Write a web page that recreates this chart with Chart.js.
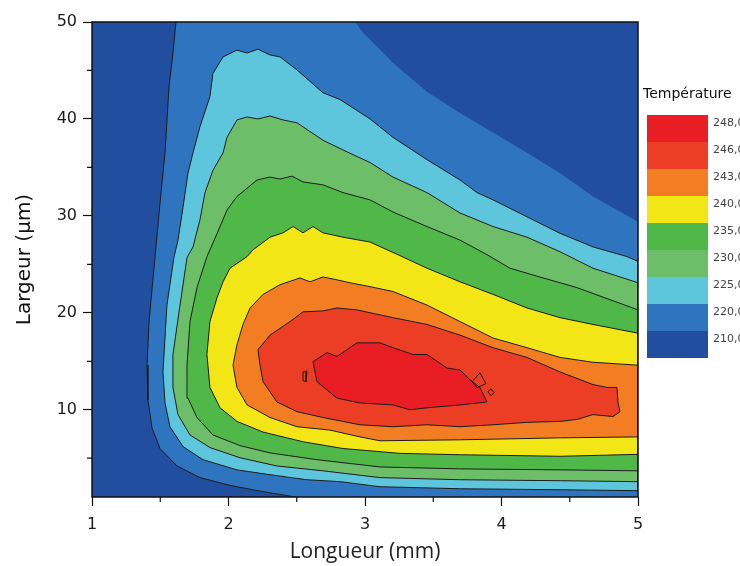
<!DOCTYPE html>
<html>
<head>
<meta charset="utf-8">
<script src="https://cdn.jsdelivr.net/npm/chart.js@4.4.0/dist/chart.umd.min.js"></script>
<style>
  html, body { margin: 0; padding: 0; background: #fff; overflow: hidden; }
  #wrap { position: relative; width: 740px; height: 566px; }
  #legend { position: absolute; left: 0; top: 0; width: 740px; height: 566px; pointer-events: none; overflow: hidden; }
  .ttl { position: absolute; font: 14px "DejaVu Sans", sans-serif; color: #111; white-space: nowrap; }
  .seg { position: absolute; }
  .lab { position: absolute; font: 11px "DejaVu Sans", sans-serif; color: #444; white-space: nowrap; line-height: 14px; }
</style>
</head>
<body>
<div id="wrap">
  <canvas id="contour" width="740" height="566"></canvas>
  <div id="legend"></div>
</div>
<script>
/* --------------- Axes --------------------- */
const xTicks = [1, 2, 3, 4, 5];
const yTicks = [10, 20, 30, 40, 50];
const xMinorTicks = [1.5, 2.5, 3.5, 4.5];
const yMinorTicks = [5, 15, 25, 35, 45];

/* --------------- Colour scale (bottom -> top) --------------------- */
const legendLabels = ["210,0", "220,0", "225,0", "230,0", "235,0", "240,0", "243,0", "246,0", "248,0"];
const legendColors = ["#224ea0", "#2f74be", "#5ec6dc", "#6cbe69", "#50b848", "#f3e616", "#f27d22", "#eb3e25", "#e91e25"];

/* --------------- Contours: [longueur mm, largeur um] ------------------------------------------ */
// 210 level, left branch (drawn with a line) and top-right branch (no line)
const c210Left = [[1.615,50],[1.593,46.8],[1.564,43.3],[1.535,36.5],[1.498,31.3],[1.46,25.5],[1.418,19.1],[1.403,14.6],[1.41,11.0],[1.44,8.1],[1.498,6.0],[1.623,4.2],[1.791,3.0],[2.011,2.2],[2.253,1.55],[2.49,1.0]];
const c210Right = [[2.93,50],[2.98,49.0],[3.205,45.8],[3.454,42.8],[3.696,40.6],[3.938,38.6],[4.187,36.5],[4.429,34.4],[4.67,32.0],[5,29.4]];

const c220 = [[5,1.65],[4.43,1.75],[3.7,1.85],[3.11,2.06],[2.82,2.58],[2.575,2.78],[2.304,3.3],[2.062,3.8],[1.813,4.85],[1.667,6.2],[1.571,8.25],[1.535,10.7],[1.52,13.9],[1.549,20.8],[1.6,25.7],[1.63,27.5],[1.667,30.9],[1.703,34.4],[1.74,36.5],[1.791,39.2],[1.864,42.3],[1.886,44.7],[1.96,46.4],[2.062,47.1],[2.136,46.8],[2.216,47.2],[2.304,46.6],[2.377,46.4],[2.502,45.05],[2.692,42.7],[2.817,42.0],[3.037,40.0],[3.205,38.1],[3.454,35.8],[3.696,33.7],[3.821,32.4],[3.938,31.65],[4.187,29.9],[4.429,28.2],[4.67,26.8],[4.919,25.8],[5,25.3]];

const c225 = [[5,2.58],[4.43,2.68],[3.7,2.78],[3.11,3.0],[2.692,3.7],[2.355,4.2],[2.084,5.05],[1.864,6.1],[1.718,7.4],[1.63,9.5],[1.593,12.3],[1.593,15.7],[1.645,20.8],[1.696,25.7],[1.74,26.8],[1.791,29.6],[1.828,32.4],[1.886,34.7],[1.96,36.5],[1.989,38.1],[2.062,39.9],[2.136,40.2],[2.216,40.0],[2.304,40.3],[2.399,39.9],[2.502,39.6],[2.692,37.8],[2.839,36.8],[3.037,35.5],[3.205,34.0],[3.454,32.4],[3.696,30.3],[3.938,28.9],[4.187,27.8],[4.429,26.3],[4.67,24.6],[5,23.1]];

const c230 = [[5,3.7],[4.43,3.8],[3.7,3.9],[3.11,4.1],[2.648,4.85],[2.304,5.55],[2.084,6.3],[1.886,7.4],[1.769,9.2],[1.703,11.2],[1.696,14.6],[1.718,19.1],[1.769,22.6],[1.842,25.8],[1.886,27.2],[1.938,28.9],[1.989,30.6],[2.062,32.0],[2.209,33.7],[2.304,34.0],[2.377,33.8],[2.465,34.1],[2.546,33.5],[2.692,33.2],[2.839,32.4],[3.037,31.65],[3.205,30.4],[3.454,28.9],[3.696,27.5],[3.894,26.0],[4.062,24.6],[4.304,23.6],[4.553,22.6],[5,20.3]];

const c235 = [[5,5.4],[4.72,5.3],[4.43,5.2],[3.7,5.36],[3.256,5.5],[2.839,6.0],[2.546,6.7],[2.253,7.7],[2.062,8.8],[1.938,10.2],[1.864,12.3],[1.842,15.7],[1.864,19.1],[1.916,21.55],[1.96,23.2],[2.011,24.6],[2.136,25.8],[2.18,26.5],[2.304,27.8],[2.399,28.25],[2.473,28.9],[2.546,28.25],[2.619,28.9],[2.692,28.25],[2.839,27.8],[3.037,27.3],[3.256,25.9],[3.454,24.6],[3.696,23.2],[3.938,21.9],[4.187,20.5],[4.429,19.5],[4.67,18.8],[5,17.9]];

const c240 = [[5,7.2],[4.43,7.1],[3.7,6.9],[3.11,6.8],[2.963,7.2],[2.744,7.9],[2.502,8.25],[2.304,9.2],[2.136,10.5],[2.062,12.3],[2.033,14.6],[2.062,16.7],[2.106,18.8],[2.158,20.5],[2.253,21.9],[2.377,22.9],[2.524,23.6],[2.597,23.2],[2.692,23.7],[2.795,23.4],[2.89,23.1],[3.037,22.7],[3.205,22.2],[3.454,20.8],[3.696,19.1],[3.938,17.4],[4.187,16.4],[4.429,15.4],[4.67,14.9],[5,14.6]];

const c243 = [[2.216,16.2],[2.304,17.7],[2.451,19.1],[2.546,20.1],[2.692,20.2],[2.795,20.5],[2.941,20.3],[3.205,19.5],[3.454,18.8],[3.696,17.7],[3.938,16.4],[4.187,15.4],[4.429,13.9],[4.67,12.6],[4.773,12.3],[4.846,12.3],[4.853,10.8],[4.868,9.8],[4.817,9.3],[4.67,9.5],[4.553,9.0],[4.429,8.8],[4.187,8.7],[3.938,8.45],[3.696,8.25],[3.454,8.45],[3.205,8.25],[2.963,8.45],[2.692,9.2],[2.502,9.8],[2.355,10.8],[2.253,12.9],[2.231,14.6]];

const c246 = [[2.619,14.95],[2.722,15.9],[2.795,15.5],[2.941,16.9],[3.11,16.9],[3.205,16.4],[3.352,15.7],[3.454,15.7],[3.601,14.3],[3.696,14.1],[3.769,13.1],[3.842,12.3],[3.894,10.8],[3.696,10.5],[3.454,10.2],[3.33,10.0],[3.205,10.5],[2.963,10.7],[2.795,11.2],[2.648,12.9]];

// small closed islands
const island1 = [[3.784,12.89],[3.842,13.8],[3.886,12.7],[3.821,12.27]];
const island2 = [[3.90,11.86],[3.923,12.16],[3.945,11.75],[3.923,11.44]];
const island3 = [[2.546,13.9],[2.575,14.0],[2.568,12.9],[2.546,13.0]];

/* --------------- Build datasets --------------------- */
const lineColor = "#1c1c1c";
const toPts = (arr) => arr.map(p => ({ x: p[0], y: p[1] }));

function bandSet(arr, color, order, withLine) {
  const data = toPts(arr);
  data.push(data[0]);
  return {
    data: data,
    bandColor: color,
    showLine: true,
    borderColor: withLine ? lineColor : "rgba(0,0,0,0)",
    borderWidth: 1,
    pointRadius: 0,
    tension: 0,
    fill: false,
    order: order,
  };
}
function lineSet(arr, closed) {
  const data = toPts(arr);
  if (closed) data.push(data[0]);
  return { data: data, showLine: true, borderColor: lineColor, borderWidth: 1, pointRadius: 0, tension: 0, fill: false, order: 0 };
}

const poly210 = c210Left.concat([[5, 1]], c210Right.slice().reverse());

const datasets = [
  bandSet(poly210, legendColors[1], 100, false),
  lineSet(c210Left, false),
  bandSet(c220, legendColors[2], 99, true),
  bandSet(c225, legendColors[3], 98, true),
  bandSet(c230, legendColors[4], 97, true),
  bandSet(c235, legendColors[5], 96, true),
  bandSet(c240, legendColors[6], 95, true),
  bandSet(c243, legendColors[7], 94, true),
  bandSet(c246, legendColors[8], 93, true),
  lineSet(island1, true),
  lineSet(island2, true),
  lineSet(island3, true),
];

/* --------------- Plugins --------------------- */
const bandFill = {
  id: "bandFill",
  beforeDatasetsDraw(chart) {
    const a = chart.chartArea, ctx = chart.ctx;
    ctx.save();
    ctx.fillStyle = legendColors[0];
    ctx.fillRect(a.left, a.top, a.right - a.left, a.bottom - a.top);
    ctx.restore();
  },
  beforeDatasetDraw(chart, args) {
    const ds = chart.data.datasets[args.index];
    if (!ds.bandColor) return;
    const a = chart.chartArea, ctx = chart.ctx;
    const pts = args.meta.data;
    ctx.save();
    ctx.beginPath();
    ctx.rect(a.left, a.top, a.right - a.left, a.bottom - a.top);
    ctx.clip();
    ctx.beginPath();
    pts.forEach((p, i) => (i === 0 ? ctx.moveTo(p.x, p.y) : ctx.lineTo(p.x, p.y)));
    ctx.closePath();
    ctx.fillStyle = ds.bandColor;
    ctx.fill();
    ctx.restore();
  },
};

const frame = {
  id: "frame",
  afterDraw(chart) {
    const a = chart.chartArea, ctx = chart.ctx;
    const xs = chart.scales.x, ys = chart.scales.y;
    ctx.save();
    ctx.strokeStyle = "#111";
    ctx.lineWidth = 1.5;
    ctx.strokeRect(a.left, a.top, a.right - a.left, a.bottom - a.top);
    ctx.lineWidth = 1.2;
    ctx.beginPath();
    xMinorTicks.forEach(v => {
      const px = xs.getPixelForValue(v);
      ctx.moveTo(px, a.bottom);
      ctx.lineTo(px, a.bottom + 5);
    });
    yMinorTicks.forEach(v => {
      const py = ys.getPixelForValue(v);
      ctx.moveTo(a.left, py);
      ctx.lineTo(a.left - 5, py);
    });
    ctx.stroke();
    ctx.restore();
  },
};

/* --------------- Chart --------------------- */
const tickFont = { family: "'DejaVu Sans', sans-serif", size: 16 };

new Chart(document.getElementById("contour"), {
  type: "scatter",
  data: { datasets: datasets },
  plugins: [bandFill, frame],
  options: {
    responsive: false,
    animation: false,
    devicePixelRatio: 1,
    layout: { padding: { left: 0, top: 22, right: 102, bottom: 0 } },
    plugins: { legend: { display: false }, tooltip: { enabled: false } },
    scales: {
      x: {
        type: "linear",
        min: 1,
        max: 5,
        afterBuildTicks: (s) => { s.ticks = xTicks.map(v => ({ value: v })); },
        afterFit: (s) => { s.height = 69; },
        grid: { drawOnChartArea: false, drawTicks: true, tickLength: 9, tickColor: "#111", tickWidth: 1.2 },
        border: { display: false },
        ticks: { font: tickFont, color: "#1a1a1a", padding: 9, maxRotation: 0 },
        title: {
          display: true,
          text: "Longueur (mm)",
          font: { family: "'Open Sans', sans-serif", size: 21 },
          color: "#222",
          padding: { top: 0, bottom: 1 },
        },
      },
      y: {
        type: "linear",
        min: 1,
        max: 50,
        afterBuildTicks: (s) => { s.ticks = yTicks.map(v => ({ value: v })); },
        afterFit: (s) => { s.width = 92; },
        grid: { drawOnChartArea: false, drawTicks: true, tickLength: 9, tickColor: "#111", tickWidth: 1.2 },
        border: { display: false },
        ticks: { font: tickFont, color: "#1a1a1a", padding: 6 },
        title: {
          display: true,
          text: "Largeur (µm)",
          font: { family: "'DejaVu Sans', sans-serif", size: 20 },
          color: "#111",
          padding: { top: 13, bottom: 0 },
        },
      },
    },
  },
});

/* --------------- Colour bar --------------------- */
const legendEl = document.getElementById("legend");
const barTop = 115, segH = 27, barLeft = 647, barW = 61;
const ttl = document.createElement("div");
ttl.className = "ttl";
ttl.style.left = "643px";
ttl.style.top = "85px";
ttl.textContent = "Température";
legendEl.appendChild(ttl);
const n = legendColors.length;
for (let i = 0; i < n; i++) {
  const k = n - 1 - i; // top segment is the highest level
  const seg = document.createElement("div");
  seg.className = "seg";
  seg.style.left = barLeft + "px";
  seg.style.top = (barTop + i * segH) + "px";
  seg.style.width = barW + "px";
  seg.style.height = segH + "px";
  seg.style.background = legendColors[k];
  legendEl.appendChild(seg);
  const lab = document.createElement("div");
  lab.className = "lab";
  lab.style.left = "713px";
  lab.style.top = (barTop + i * segH + 1) + "px";
  lab.textContent = legendLabels[k];
  legendEl.appendChild(lab);
}
</script>
</body>
</html>
